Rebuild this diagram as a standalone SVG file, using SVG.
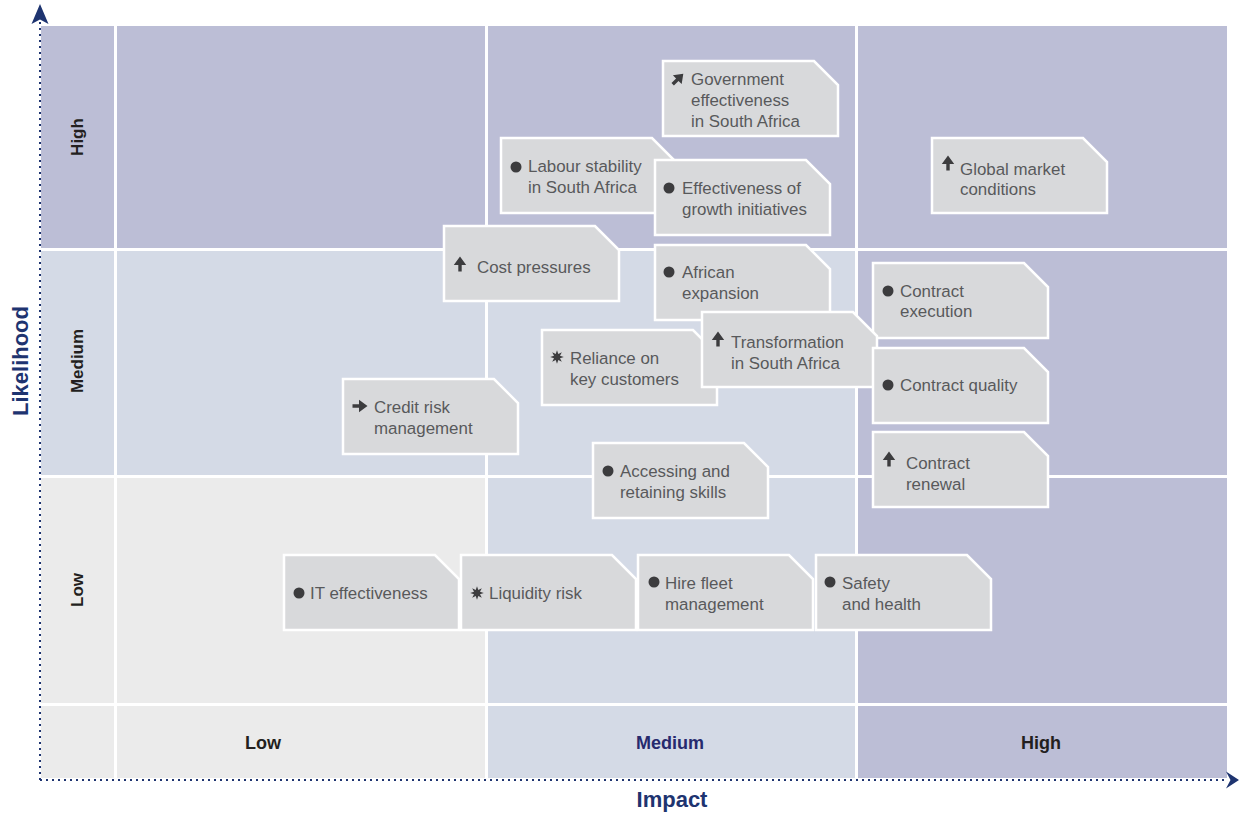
<svg xmlns="http://www.w3.org/2000/svg" width="1239" height="813" viewBox="0 0 1239 813">
<style>
.dk{fill:#bcbed6}.lb{fill:#d4dae6}.lg{fill:#ebebeb}
.nd{fill:#d8d9db;stroke:#ffffff;stroke-width:2.5}
.t{font-family:"Liberation Sans",Arial,sans-serif;font-size:16.9px;fill:#58595b}
.ic{fill:#3c3c3e}
.rl{font-family:"Liberation Sans",Arial,sans-serif;font-size:17px;font-weight:bold;fill:#231f20}
.cl{font-family:"Liberation Sans",Arial,sans-serif;font-size:18px;font-weight:bold;fill:#231f20}
.ax{font-family:"Liberation Sans",Arial,sans-serif;font-size:22px;font-weight:bold;fill:#1e3470}
.dot{stroke:#1e3470;stroke-width:2;stroke-dasharray:2 4;fill:none}
</style>
<defs>
<g id="up"><path d="M0,-7.5 L6.2,1 L1.7,1 L1.7,7.5 L-1.7,7.5 L-1.7,1 L-6.2,1 Z"/></g>
<g id="bul"><circle r="5.5"/></g>
<g id="star"><polygon points="0,-6.8 1.3,-3 4.8,-4.8 3,-1.3 6.8,0 3,1.3 4.8,4.8 1.3,3 0,6.8 -1.3,3 -4.8,4.8 -3,1.3 -6.8,0 -3,-1.3 -4.8,-4.8 -1.3,-3"/></g>
</defs>
<rect width="1239" height="813" fill="#ffffff"/>
<g id="grid">
<rect class="dk" x="41" y="26" width="73" height="222"/>
<rect class="dk" x="117" y="26" width="368" height="222"/>
<rect class="dk" x="488" y="26" width="367" height="222"/>
<rect class="dk" x="858" y="26" width="369" height="222"/>
<rect class="lb" x="41" y="251" width="73" height="224"/>
<rect class="lb" x="117" y="251" width="368" height="224"/>
<rect class="lb" x="488" y="251" width="367" height="224"/>
<rect class="dk" x="858" y="251" width="369" height="224"/>
<rect class="lg" x="41" y="478" width="73" height="225"/>
<rect class="lg" x="117" y="478" width="368" height="225"/>
<rect class="lb" x="488" y="478" width="367" height="225"/>
<rect class="dk" x="858" y="478" width="369" height="225"/>
<rect class="lg" x="41" y="706" width="73" height="72"/>
<rect class="lg" x="117" y="706" width="368" height="72"/>
<rect class="lb" x="488" y="706" width="367" height="72"/>
<rect class="dk" x="858" y="706" width="369" height="72"/>
</g>
<g id="labels">
<text class="rl" transform="translate(83,137) rotate(-90)" text-anchor="middle">High</text>
<text class="rl" transform="translate(83,361) rotate(-90)" text-anchor="middle">Medium</text>
<text class="rl" transform="translate(83,590) rotate(-90)" text-anchor="middle">Low</text>
<text class="cl" x="263" y="749" text-anchor="middle">Low</text>
<text class="cl" x="670" y="749" text-anchor="middle" style="fill:#262a6e">Medium</text>
<text class="cl" x="1041" y="749" text-anchor="middle">High</text>
<text class="ax" x="672" y="807" text-anchor="middle">Impact</text>
<text class="ax" transform="translate(28,361) rotate(-90)" text-anchor="middle">Likelihood</text>
</g>
<g id="connectors">
<line class="dot" x1="40" y1="780" x2="40" y2="22"/>
<line class="dot" x1="40" y1="780" x2="1228" y2="780"/>
<path d="M40,4 L48.5,24 L40,19.5 L31.5,24 Z" fill="#1e3470"/>
<path d="M1239,780 L1226,788.5 L1230.5,780 L1226,771.5 Z" fill="#1e3470"/>
</g>
<g id="n-gov"><path class="nd" d="M663,61 h151 l24,24 v51 h-175 z"/>
<use href="#up" class="ic" transform="translate(678,79) rotate(45)"/>
<text class="t" x="691" y="85">Government</text><text class="t" x="691" y="106">effectiveness</text><text class="t" x="691" y="127">in South Africa</text></g>
<g id="n-labour"><path class="nd" d="M501,138 h151 l24,24 v51 h-175 z"/>
<use href="#bul" class="ic" x="516" y="167"/>
<text class="t" x="528" y="172">Labour stability</text><text class="t" x="528" y="193">in South Africa</text></g>
<g id="n-growth"><path class="nd" d="M655,160 h151 l24,24 v51 h-175 z"/>
<use href="#bul" class="ic" x="669" y="188"/>
<text class="t" x="682" y="194">Effectiveness of</text><text class="t" x="682" y="215">growth initiatives</text></g>
<g id="n-global"><path class="nd" d="M932,138 h151 l24,24 v51 h-175 z"/>
<use href="#up" class="ic" x="948" y="163"/>
<text class="t" x="960" y="175">Global market</text><text class="t" x="960" y="195">conditions</text></g>
<g id="n-cost"><path class="nd" d="M444,226 h151 l24,24 v51 h-175 z"/>
<use href="#up" class="ic" x="460" y="264"/>
<text class="t" x="477" y="273">Cost pressures</text></g>
<g id="n-african"><path class="nd" d="M655,245 h151 l24,24 v51 h-175 z"/>
<use href="#bul" class="ic" x="669" y="272"/>
<text class="t" x="682" y="278">African</text><text class="t" x="682" y="299">expansion</text></g>
<g id="n-cexec"><path class="nd" d="M873,263 h151 l24,24 v51 h-175 z"/>
<use href="#bul" class="ic" x="888" y="291"/>
<text class="t" x="900" y="297">Contract</text><text class="t" x="900" y="317">execution</text></g>
<g id="n-reliance"><path class="nd" d="M542,330 h151 l24,24 v51 h-175 z"/>
<use href="#star" class="ic" x="557" y="357"/>
<text class="t" x="570" y="364">Reliance on</text><text class="t" x="570" y="385">key customers</text></g>
<g id="n-transform"><path class="nd" d="M702,312 h151 l24,24 v51 h-175 z"/>
<use href="#up" class="ic" x="718" y="339"/>
<text class="t" x="731" y="348">Transformation</text><text class="t" x="731" y="369">in South Africa</text></g>
<g id="n-cquality"><path class="nd" d="M873,348 h151 l24,24 v51 h-175 z"/>
<use href="#bul" class="ic" x="888" y="385"/>
<text class="t" x="900" y="391">Contract quality</text></g>
<g id="n-credit"><path class="nd" d="M343,379 h151 l24,24 v51 h-175 z"/>
<use href="#up" class="ic" transform="translate(360,406) rotate(90)"/>
<text class="t" x="374" y="413">Credit risk</text><text class="t" x="374" y="434">management</text></g>
<g id="n-accessing"><path class="nd" d="M593,443 h151 l24,24 v51 h-175 z"/>
<use href="#bul" class="ic" x="608" y="471"/>
<text class="t" x="620" y="477">Accessing and</text><text class="t" x="620" y="498">retaining skills</text></g>
<g id="n-crenewal"><path class="nd" d="M873,432 h151 l24,24 v51 h-175 z"/>
<use href="#up" class="ic" x="889" y="459"/>
<text class="t" x="906" y="469">Contract</text><text class="t" x="906" y="490">renewal</text></g>
<g id="n-it"><path class="nd" d="M284,555 h151 l24,24 v51 h-175 z"/>
<use href="#bul" class="ic" x="299" y="593"/>
<text class="t" x="310" y="599">IT effectiveness</text></g>
<g id="n-liquidity"><path class="nd" d="M461,555 h151 l24,24 v51 h-175 z"/>
<use href="#star" class="ic" x="477" y="593"/>
<text class="t" x="489" y="599">Liquidity risk</text></g>
<g id="n-hire"><path class="nd" d="M638,555 h151 l24,24 v51 h-175 z"/>
<use href="#bul" class="ic" x="654" y="582"/>
<text class="t" x="665" y="589">Hire fleet</text><text class="t" x="665" y="610">management</text></g>
<g id="n-safety"><path class="nd" d="M816,555 h151 l24,24 v51 h-175 z"/>
<use href="#bul" class="ic" x="830" y="582"/>
<text class="t" x="842" y="589">Safety</text><text class="t" x="842" y="610">and health</text></g>
</svg>
